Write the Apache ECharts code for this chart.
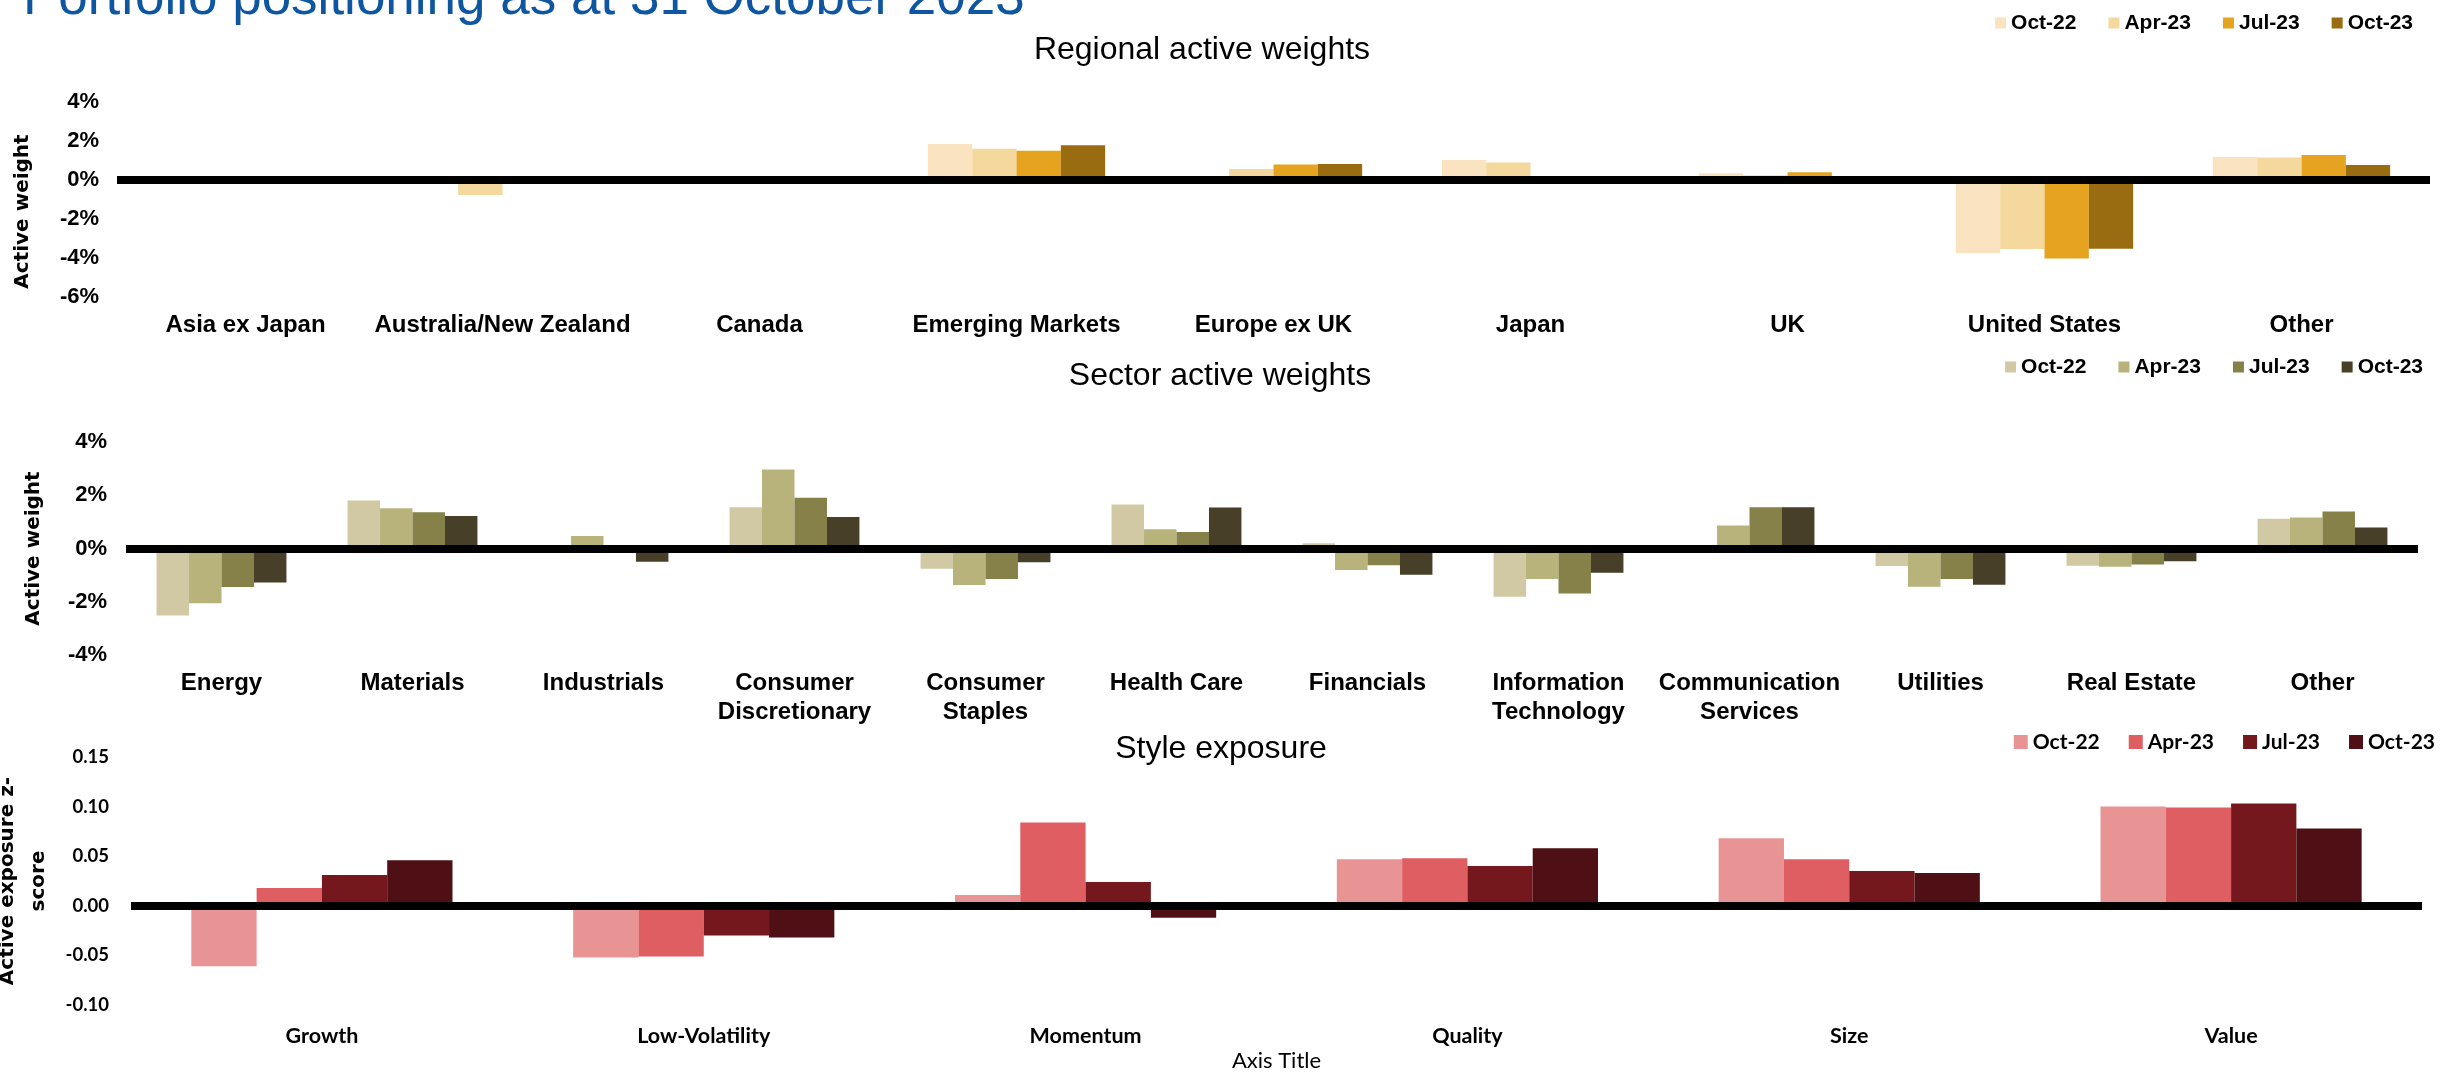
<!DOCTYPE html>
<html>
<head>
<meta charset="utf-8">
<script src="https://cdn.jsdelivr.net/npm/echarts@6/dist/echarts.min.js"></script>
<style>html,body{margin:0;padding:0;background:#fff;}#c{width:2440px;height:1072px;}</style>
</head>
<body>
<div id="c"></div>
<script>
// ---------- DATA ----------
const seriesNames = ['Oct-22', 'Apr-23', 'Jul-23', 'Oct-23'];

const regionCats = ['Asia ex Japan', 'Australia/New Zealand', 'Canada', 'Emerging Markets', 'Europe ex UK', 'Japan', 'UK', 'United States', 'Other'];
const regionOct22 = [0, 0, 0, 1.85, -0.05, 1.03, 0.35, -3.76, 1.18];
const regionApr23 = [0, -0.77, -0.05, 1.60, 0.56, 0.90, 0.25, -3.54, 1.15];
const regionJul23 = [0, -0.05, 0, 1.50, 0.80, 0, 0.40, -4.02, 1.28];
const regionOct23 = [0, 0, 0, 1.78, 0.82, 0, 0, -3.52, 0.77];

const sectorCats = ['Energy', 'Materials', 'Industrials', 'Consumer\nDiscretionary', 'Consumer\nStaples', 'Health Care', 'Financials', 'Information\nTechnology', 'Communication\nServices', 'Utilities', 'Real Estate', 'Other'];
const sectorOct22 = [-2.52, 1.80, 0, 1.55, -0.76, 1.65, 0.20, -1.81, 0, -0.66, -0.65, 1.12];
const sectorApr23 = [-2.06, 1.51, 0.47, 2.97, -1.37, 0.72, -0.81, -1.15, 0.86, -1.44, -0.69, 1.16];
const sectorJul23 = [-1.45, 1.36, 0, 1.91, -1.15, 0.62, -0.63, -1.69, 1.55, -1.15, -0.60, 1.39];
const sectorOct23 = [-1.28, 1.22, -0.50, 1.18, -0.52, 1.54, -0.99, -0.91, 1.55, -1.36, -0.48, 0.79];

const styleCats = ['Growth', 'Low-Volatility', 'Momentum', 'Quality', 'Size', 'Value'];
const styleOct22 = [-0.061, -0.052, 0.011, 0.047, 0.068, 0.100];
const styleApr23 = [0.018, -0.051, 0.084, 0.048, 0.047, 0.099];
const styleJul23 = [0.031, -0.030, 0.024, 0.040, 0.035, 0.103];
const styleOct23 = [0.046, -0.032, -0.012, 0.058, 0.033, 0.078];

const regionTicks = { min: -6, max: 4, interval: 2 };
const sectorTicks = { min: -4, max: 4, interval: 2 };
const styleTicks = { min: -0.10, max: 0.15, interval: 0.05 };

const mainTitle = 'Portfolio positioning as at 31 October 2023';
const regionTitle = 'Regional active weights';
const sectorTitle = 'Sector active weights';
const styleTitle = 'Style exposure';
const weightAxisName = 'Active weight';
const styleAxisName = 'Active exposure z-\nscore';
const styleXName = 'Axis Title';

// ---------- STYLE ----------
const regionColors = ['#F9E3C0', '#F5D89E', '#E5A31F', '#9A6C12'];
const sectorColors = ['#D0C9A3', '#B8B37B', '#868149', '#473F28'];
const styleColors = ['#E89394', '#DF5E62', '#74181E', '#4E1015'];

const ARIAL = '"Liberation Sans", Arial, sans-serif';
const CALIBRI = 'Lato, "Liberation Sans", sans-serif';
const WIDE = '"DejaVu Sans", sans-serif';

function makeSeries(tag, idx, arrays, colors, gap) {
  return seriesNames.map((n, i) => {
    const s = {
      type: 'bar',
      name: n + '|' + tag,
      xAxisIndex: idx,
      yAxisIndex: idx,
      data: arrays[i],
      barGap: '0%',
      barCategoryGap: gap,
      itemStyle: { color: colors[i] },
      silent: true,
      animation: false
    };
    if (i === seriesNames.length - 1) {
      s.markLine = {
        silent: true,
        symbol: ['none', 'none'],
        label: { show: false },
        lineStyle: { color: '#000', width: 8, type: 'solid' },
        data: [{ yAxis: 0 }],
        animation: false,
        z: 10
      };
    }
    return s;
  });
}

function makeLegend(tag, pos, iconSize, gap, font, size) {
  return Object.assign({
    data: seriesNames.map(n => n + '|' + tag),
    formatter: name => name.split('|')[0],
    icon: 'rect',
    itemWidth: iconSize,
    itemHeight: iconSize,
    itemGap: gap,
    selectedMode: false,
    padding: 0,
    textStyle: { fontFamily: font, fontWeight: 'bold', fontSize: size, color: '#000', lineHeight: 22 }
  }, pos);
}

const catLabel = (font, size, margin, lh) => ({
  interval: 0, margin: margin, color: '#000', fontFamily: font, fontWeight: 'bold', fontSize: size, lineHeight: lh
});

const option = {
  animation: false,
  backgroundColor: '#fff',
  graphic: [
    { type: 'text', x: 23, y: -1, style: { text: mainTitle, fontFamily: ARIAL, fontSize: 53, fill: '#0E57A0', align: 'left', verticalAlign: 'middle' } },
    { type: 'text', x: 1202, y: 50, style: { text: regionTitle, fontFamily: ARIAL, fontSize: 32, fill: '#000', align: 'center', verticalAlign: 'middle' } },
    { type: 'text', x: 1220, y: 376, style: { text: sectorTitle, fontFamily: ARIAL, fontSize: 32, fill: '#000', align: 'center', verticalAlign: 'middle' } },
    { type: 'text', x: 1221, y: 749, style: { text: styleTitle, fontFamily: ARIAL, fontSize: 32, fill: '#000', align: 'center', verticalAlign: 'middle' } }
  ],
  legend: [
    makeLegend('r', { right: 27, top: 12 }, 11, 32, ARIAL, 21),
    makeLegend('s', { right: 17, top: 356 }, 11, 32, ARIAL, 21),
    makeLegend('y', { right: 5, top: 731 }, 14, 29, CALIBRI, 21)
  ],
  grid: [
    { left: 117, right: 10, top: 102, height: 195, outerBoundsMode: 'none' },
    { left: 126, right: 22, top: 442, height: 213, outerBoundsMode: 'none' },
    { left: 131, right: 18, top: 757, height: 248, outerBoundsMode: 'none' }
  ],
  xAxis: [
    { type: 'category', gridIndex: 0, data: regionCats, axisLine: { show: false, onZero: false }, axisTick: { show: false }, axisLabel: catLabel(ARIAL, 24, 14, 29) },
    { type: 'category', gridIndex: 1, data: sectorCats, axisLine: { show: false, onZero: false }, axisTick: { show: false }, axisLabel: catLabel(ARIAL, 24, 14, 29) },
    { type: 'category', gridIndex: 2, data: styleCats, axisLine: { show: false, onZero: false }, axisTick: { show: false }, axisLabel: catLabel(CALIBRI, 21.5, 18, 26),
      name: styleXName, nameLocation: 'middle', nameGap: 44, nameTextStyle: { fontFamily: CALIBRI, fontSize: 22, color: '#000' } }
  ],
  yAxis: [
    { type: 'value', gridIndex: 0, min: regionTicks.min, max: regionTicks.max, interval: regionTicks.interval,
      splitLine: { show: false }, axisLine: { show: false }, axisTick: { show: false },
      axisLabel: { formatter: '{value}%', margin: 18, color: '#000', fontFamily: ARIAL, fontWeight: 'bold', fontSize: 22 },
      name: weightAxisName, nameLocation: 'middle', nameRotate: 90, nameGap: 84,
      nameTextStyle: { fontFamily: WIDE, fontWeight: 'bold', fontSize: 20, color: '#000', padding: [0, 24, 0, 0] } },
    { type: 'value', gridIndex: 1, min: sectorTicks.min, max: sectorTicks.max, interval: sectorTicks.interval,
      splitLine: { show: false }, axisLine: { show: false }, axisTick: { show: false },
      axisLabel: { formatter: '{value}%', margin: 19, color: '#000', fontFamily: ARIAL, fontWeight: 'bold', fontSize: 22 },
      name: weightAxisName, nameLocation: 'middle', nameRotate: 90, nameGap: 82,
      nameTextStyle: { fontFamily: WIDE, fontWeight: 'bold', fontSize: 20, color: '#000' } },
    { type: 'value', gridIndex: 2, min: styleTicks.min, max: styleTicks.max, interval: styleTicks.interval,
      splitLine: { show: false }, axisLine: { show: false }, axisTick: { show: false },
      axisLabel: { formatter: v => v.toFixed(2), margin: 22, color: '#000', fontFamily: CALIBRI, fontWeight: 'bold', fontSize: 18.5 },
      name: styleAxisName, nameLocation: 'middle', nameRotate: 90, nameGap: 70,
      nameTextStyle: { fontFamily: WIDE, fontWeight: 'bold', fontSize: 20, color: '#000', lineHeight: 31 } }
  ],
  series: [].concat(
    makeSeries('r', 0, [regionOct22, regionApr23, regionJul23, regionOct23], regionColors, '31%'),
    makeSeries('s', 1, [sectorOct22, sectorApr23, sectorJul23, sectorOct23], sectorColors, '32%'),
    makeSeries('y', 2, [styleOct22, styleApr23, styleJul23, styleOct23], styleColors, '31.6%')
  )
};

const chart = echarts.init(document.getElementById('c'), null, { renderer: 'canvas', width: 2440, height: 1072 });
chart.setOption(option);
</script>
</body>
</html>
